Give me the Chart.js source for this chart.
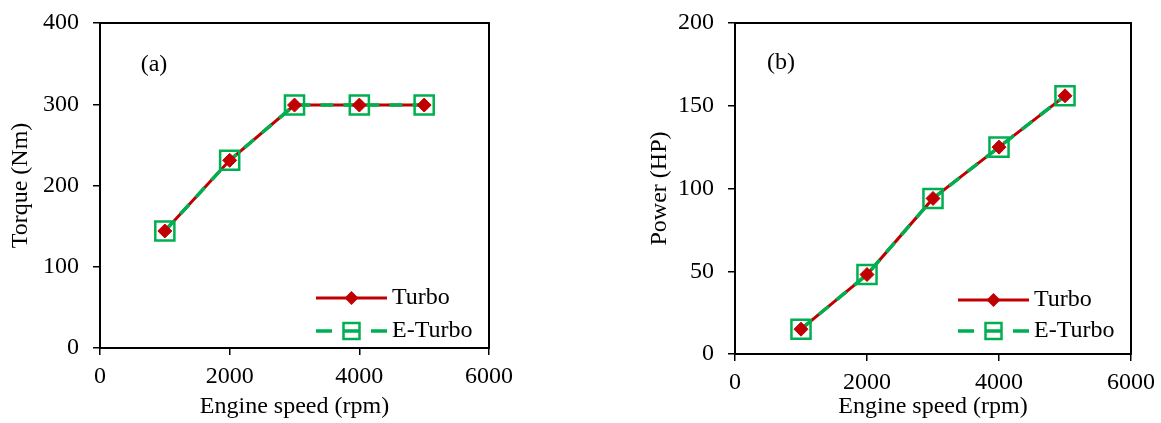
<!DOCTYPE html>
<html>
<head>
<meta charset="utf-8">
<script src="https://cdn.jsdelivr.net/npm/chart.js@4.4.1/dist/chart.umd.min.js"></script>
<style>
  html, body { margin: 0; padding: 0; background: #fff; }
  #wrap { position: relative; width: 1161px; height: 423px; }
  canvas { position: absolute; top: 0; }
</style>
</head>
<body>
<div id="wrap">
  <canvas id="chartA" width="560" height="423" style="left:0"></canvas>
  <canvas id="chartB" width="526" height="423" style="left:635px"></canvas>
</div>
<script>
// data
const speed = [1000, 2000, 3000, 4000, 5000];
const torqueTurbo = [144, 231, 299, 299, 299];
const torqueETurbo = [144, 231, 299, 299, 299];
const powerTurbo = [15, 48, 94, 125, 156];
const powerETurbo = [15, 48, 94, 125, 156];
const speedTicks = [0, 2000, 4000, 6000];
const torqueTicks = [0, 100, 200, 300, 400];
const powerTicks = [0, 50, 100, 150, 200];
const seriesNames = ['Turbo', 'E-Turbo'];

const RED = '#C00000';
const GREEN = '#00B050';
const FONT = '"Liberation Serif", "Times New Roman", serif';
const FSIZE = 24;

Chart.defaults.font.family = FONT;
Chart.defaults.font.size = FSIZE;
Chart.defaults.color = '#000';

function pts(vals) {
  return speed.map((x, i) => ({ x: x, y: vals[i] }));
}

// frame, panel letter and in-plot legend
const panelDecor = {
  id: 'panelDecor',
  afterDraw(chart, args, opts) {
    const ctx = chart.ctx;
    const a = chart.chartArea;
    ctx.save();
    ctx.strokeStyle = '#000';
    ctx.lineWidth = 2;
    ctx.strokeRect(a.left, a.top, a.right - a.left, a.bottom - a.top);

    ctx.fillStyle = '#000';
    ctx.font = FSIZE + 'px ' + FONT;
    ctx.textBaseline = 'middle';
    ctx.textAlign = 'center';
    ctx.fillText(opts.label, a.left + opts.labelDx, a.top + opts.labelDy);

    const x0 = a.right - 173, x1 = x0 + 71, xm = (x0 + x1) / 2;
    const y1 = a.bottom - opts.legY[0], y2 = a.bottom - opts.legY[1];

    // Turbo
    ctx.strokeStyle = RED;
    ctx.lineWidth = 3;
    ctx.beginPath(); ctx.moveTo(x0, y1); ctx.lineTo(x1, y1); ctx.stroke();
    ctx.fillStyle = RED;
    ctx.beginPath();
    ctx.moveTo(xm - 7, y1); ctx.lineTo(xm, y1 - 7); ctx.lineTo(xm + 7, y1); ctx.lineTo(xm, y1 + 7);
    ctx.closePath(); ctx.fill();

    // E-Turbo
    ctx.strokeStyle = GREEN;
    ctx.lineWidth = 3.5;
    ctx.setLineDash([16, 11.5]);
    ctx.beginPath(); ctx.moveTo(x0, y2); ctx.lineTo(x1, y2); ctx.stroke();
    ctx.setLineDash([]);
    ctx.lineWidth = 2.5;
    ctx.strokeRect(xm - 8, y2 - 8, 16, 16);

    ctx.fillStyle = '#000';
    ctx.textAlign = 'left';
    ctx.fillText(seriesNames[0], x1 + 5, y1);
    ctx.fillText(seriesNames[1], x1 + 5, y2);
    ctx.restore();
  }
};

function makeChart(id, turbo, eturbo, yTicks, yTitle, cfg) {
  const ctx = document.getElementById(id).getContext('2d');
  return new Chart(ctx, {
    type: 'line',
    data: {
      datasets: [
        { label: seriesNames[1] + ' pts', data: pts(eturbo), showLine: false, order: 0,
          pointStyle: 'rect', pointRadius: 13.5, pointBorderWidth: 2.5,
          pointBorderColor: GREEN, pointBackgroundColor: 'rgba(0,0,0,0)' },
        { label: seriesNames[0] + ' pts', data: pts(turbo), showLine: false, order: 1,
          pointStyle: 'rectRot', pointRadius: 7, pointBorderWidth: 1,
          pointBorderColor: RED, pointBackgroundColor: RED },
        { label: seriesNames[1], data: pts(eturbo), order: 2, borderColor: GREEN,
          borderWidth: 3.5, borderDash: [13, 10], pointRadius: 0, tension: 0 },
        { label: seriesNames[0], data: pts(turbo), order: 3, borderColor: RED,
          borderWidth: 3, pointRadius: 0, tension: 0 }
      ]
    },
    options: {
      responsive: false,
      animation: false,
      events: [],
      layout: { padding: { left: 0, top: 23, right: cfg.padRight, bottom: 0 } },
      plugins: {
        legend: { display: false },
        tooltip: { enabled: false },
        panelDecor: cfg.decor
      },
      scales: {
        x: {
          type: 'linear', min: 0, max: 6000,
          afterBuildTicks: s => { s.ticks = speedTicks.map(v => ({ value: v })); },
          afterFit: s => { s.height = cfg.xHeight; s.paddingLeft = 0; s.paddingRight = 0; },
          grid: { drawOnChartArea: false, drawTicks: true, tickLength: 7, color: '#000', lineWidth: 1.5 },
          border: { display: true, color: '#000', width: 2 },
          ticks: { padding: 7, maxRotation: 0, callback: v => String(v) },
          title: { display: true, text: 'Engine speed (rpm)', padding: { top: 0, bottom: 2 } }
        },
        y: {
          type: 'linear', min: yTicks[0], max: yTicks[yTicks.length - 1],
          afterBuildTicks: s => { s.ticks = yTicks.map(v => ({ value: v })); },
          afterFit: s => { s.width = 100; s.paddingTop = 0; s.paddingBottom = 0; },
          grid: { drawOnChartArea: false, drawTicks: true, tickLength: 7, color: '#000', lineWidth: 1.5 },
          border: { display: true, color: '#000', width: 2 },
          ticks: { padding: 14, callback: v => String(v) },
          title: { display: true, text: yTitle, padding: { top: cfg.yTitlePad, bottom: 0 } }
        }
      }
    },
    plugins: [panelDecor]
  });
}

makeChart('chartA', torqueTurbo, torqueETurbo, torqueTicks, 'Torque (Nm)', {
  padRight: 71, xHeight: 75, yTitlePad: 6,
  decor: { label: '(a)', labelDx: 54, labelDy: 42, legY: [50, 17] }
});

makeChart('chartB', powerTurbo, powerETurbo, powerTicks, 'Power (HP)', {
  padRight: 30, xHeight: 69, yTitlePad: 10,
  decor: { label: '(b)', labelDx: 46, labelDy: 40, legY: [54, 23] }
});
</script>
</body>
</html>
